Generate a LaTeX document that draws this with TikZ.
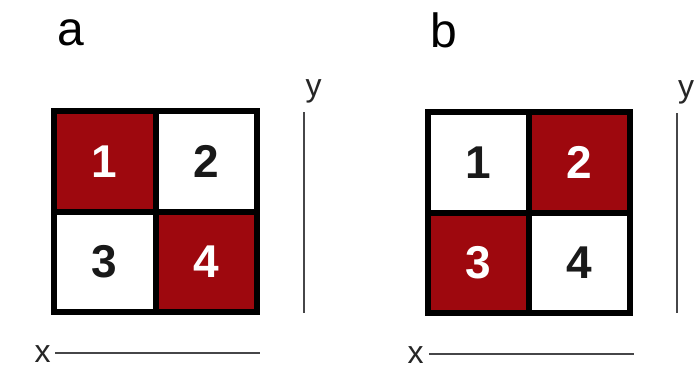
\documentclass[tikz,border=0pt]{standalone}
\usepackage{fontspec}
\setmainfont{Liberation Sans}
\definecolor{cellred}{RGB}{158,8,14}
\definecolor{axisgray}{RGB}{70,70,72}
\begin{document}
\begin{tikzpicture}[x=1pt,y=-1pt,
  frame/.style={fill=black,draw=none},
  cellbase/.style={minimum width=95.5pt,minimum height=94.5pt,inner sep=0pt,draw=none,
    font=\fontsize{46}{46}\selectfont\bfseries},
  redcell/.style={cellbase,fill=cellred,text=white},
  whitecell/.style={cellbase,fill=white,text=black!90},
  panellabel/.style={font=\fontsize{48}{48}\selectfont,anchor=base,inner sep=0pt},
  axislabel/.style={font=\fontsize{32}{32}\selectfont,anchor=base,inner sep=0pt,text=black!85},
  axisline/.style={draw=axisgray,line width=1.4pt}]
\useasboundingbox[fill=white] (0,0) rectangle (698,370);
% panel labels
\node[panellabel] (la) at (70.5,45) {a};
\node[panellabel] (lb) at (444,47) {b};
% panel a
\fill[frame] (51,108) rectangle (260,315);
\node[redcell]   (a1) at (104.75,161.25) {1};
\node[whitecell] (a2) at (206.25,161.25) {2};
\node[whitecell] (a3) at (104.75,261.75) {3};
\node[redcell]   (a4) at (206.25,261.75) {4};
% panel b
\fill[frame] (425,109) rectangle (633,316);
\node[whitecell] (b1) at (478.5,162.25) {1};
\node[redcell]   (b2) at (579.5,162.25) {2};
\node[redcell]   (b3) at (478.5,262.75) {3};
\node[whitecell] (b4) at (579.5,262.75) {4};
% axes a
\node[axislabel] (ya) at (313.5,96) {y};
\coordinate (yaT) at (304,112);
\coordinate (yaB) at (304,313);
\draw[axisline] (yaT) -- (yaB);
\node[axislabel] (xa) at (42.5,362) {x};
\coordinate (xaL) at (55,353);
\coordinate (xaR) at (260,353);
\draw[axisline] (xaL) -- (xaR);
% axes b
\node[axislabel] (yb) at (686,97) {y};
\coordinate (ybT) at (677,113);
\coordinate (ybB) at (677,313);
\draw[axisline] (ybT) -- (ybB);
\node[axislabel] (xb) at (415.5,363) {x};
\coordinate (xbL) at (429,354);
\coordinate (xbR) at (634,354);
\draw[axisline] (xbL) -- (xbR);
\end{tikzpicture}
\end{document}
